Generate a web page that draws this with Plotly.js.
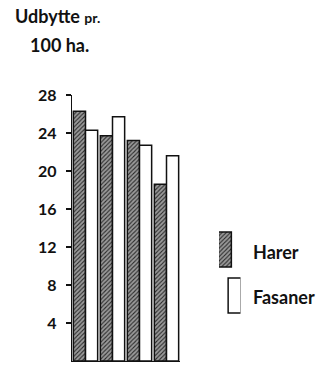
<!DOCTYPE html>
<html>
<head>
<meta charset="utf-8">
<script src="https://cdn.plot.ly/plotly-3.0.1.min.js"></script>
<style>html,body{margin:0;padding:0;background:#fff;}#chart{width:318px;height:366px;}</style>
</head>
<body>
<div id="chart"></div>
<script>
const categories = ["1", "2", "3", "4"];
const harer = [26.3, 23.7, 23.2, 18.6];
const fasaner = [24.3, 25.7, 22.7, 21.6];
const seriesNames = ["Harer", "Fasaner"];
const yTicks = [4, 8, 12, 16, 20, 24, 28];

const FONT = "Lato, 'DejaVu Sans', sans-serif";
const W = 318, H = 366;
const px = v => v / W;           // pixel x -> paper fraction
const py = v => 1 - v / H;       // pixel y -> paper fraction

const harerMarker = {
  color: "#8a8a8a",
  pattern: {shape: "/", bgcolor: "#9a9a9a", fgcolor: "#2a2a2a", size: 3, solidity: 0.35, fillmode: "replace"},
  line: {color: "#111", width: 1.5}
};
const fasanerMarker = {color: "#ffffff", line: {color: "#111", width: 1.5}};

const traces = [
  {type: "bar", name: seriesNames[0], x: categories, y: harer, marker: harerMarker, showlegend: false, hoverinfo: "skip"},
  {type: "bar", name: seriesNames[1], x: categories, y: fasaner, marker: fasanerMarker, showlegend: false, hoverinfo: "skip"},
  // legend swatches on a hidden axis
  {type: "bar", x: [0], y: [35], base: [46], marker: harerMarker, xaxis: "x2", yaxis: "y2", showlegend: false, hoverinfo: "skip", width: 0.6},
  {type: "bar", x: [0], y: [35], base: [0], marker: fasanerMarker, xaxis: "x2", yaxis: "y2", showlegend: false, hoverinfo: "skip", width: 0.6}
];

const layout = {
  width: W, height: H,
  margin: {l: 0, r: 0, t: 0, b: 0},
  paper_bgcolor: "#fff", plot_bgcolor: "rgba(0,0,0,0)",
  barmode: "group", bargap: 0.1, bargroupgap: 0,
  showlegend: false,
  font: {family: FONT, color: "#111"},
  xaxis: {domain: [px(72), px(180)], type: "category", range: [-0.5, 3.5], showline: true, linecolor: "#111", linewidth: 1.2,
          showticklabels: false, ticks: "", showgrid: false, zeroline: false, fixedrange: true, automargin: false},
  yaxis: {domain: [py(361), py(95)], range: [0, 28], tickvals: yTicks, ticktext: yTicks.map(String), showline: true, linecolor: "#111", linewidth: 1.2,
          ticks: "outside", ticklen: 5, tickcolor: "#111", tickwidth: 1.2, ticklabelstandoff: 6,
          tickfont: {family: FONT, size: 16, color: "#111", weight: 700},
          showgrid: false, zeroline: false, fixedrange: true, automargin: false},
  xaxis2: {domain: [px(219), px(240.5)], range: [-0.5, 0.5], visible: false, anchor: "y2", fixedrange: true},
  yaxis2: {domain: [py(318), py(227)], range: [-5, 86], visible: false, anchor: "x2", fixedrange: true},
  annotations: [
    {xref: "paper", yref: "paper", x: px(13), y: py(16), xanchor: "left", yanchor: "middle", showarrow: false,
     text: "Udbytte <span style='font-size:14px'>pr.</span>", font: {family: FONT, size: 18, color: "#111", weight: 700}},
    {xref: "paper", yref: "paper", x: px(28), y: py(45), xanchor: "left", yanchor: "middle", showarrow: false,
     text: "100 ha.", font: {family: FONT, size: 18, color: "#111", weight: 700}},
    {xref: "paper", yref: "paper", x: px(251), y: py(252), xanchor: "left", yanchor: "middle", showarrow: false,
     text: seriesNames[0], font: {family: FONT, size: 18, color: "#111", weight: 700}},
    {xref: "paper", yref: "paper", x: px(251), y: py(297), xanchor: "left", yanchor: "middle", showarrow: false,
     text: seriesNames[1], font: {family: FONT, size: 18, color: "#111", weight: 700}}
  ]
};

Plotly.newPlot("chart", traces, layout, {staticPlot: true, displayModeBar: false});
</script>
</body>
</html>
